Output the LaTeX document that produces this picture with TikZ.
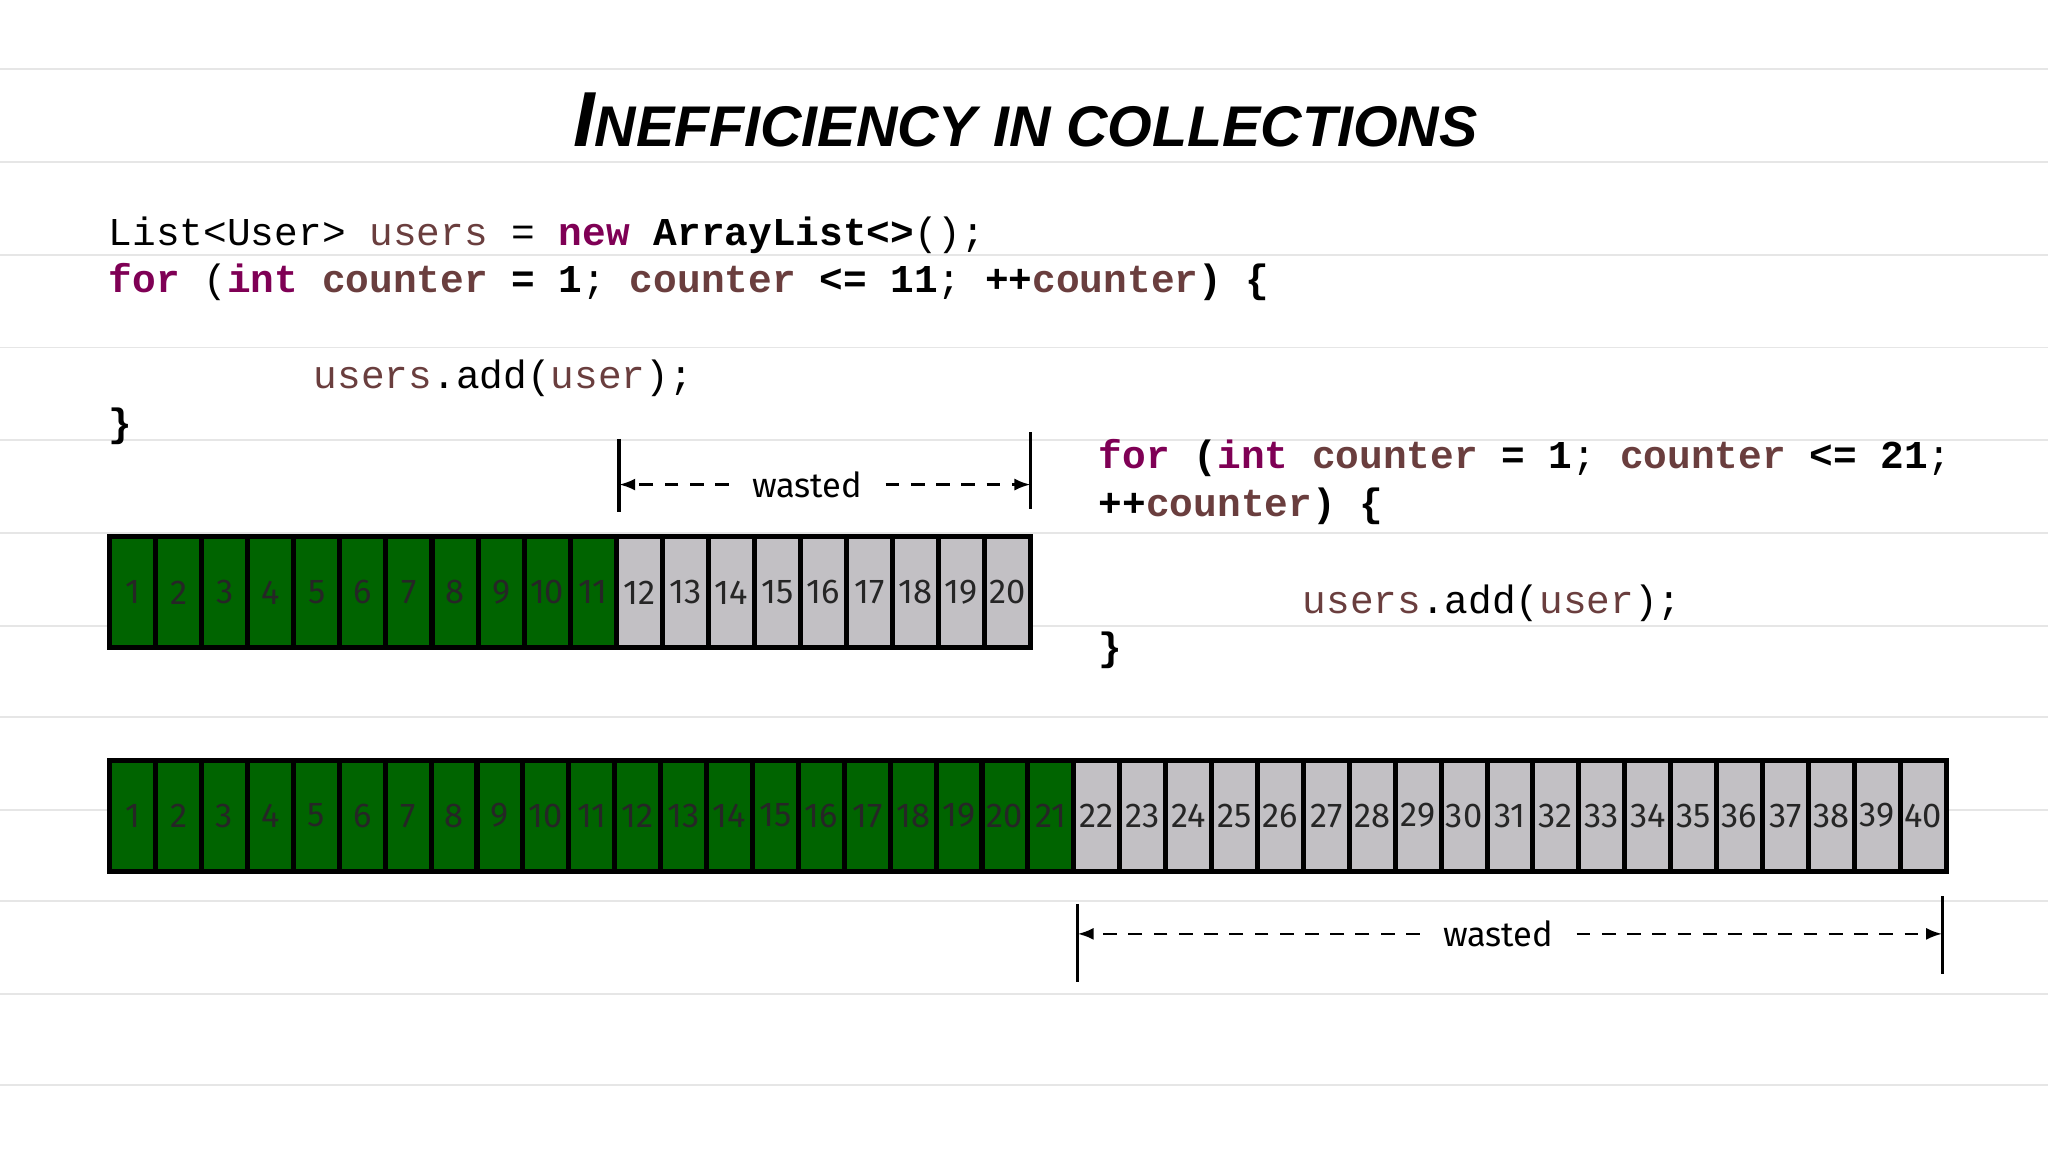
\documentclass[tikz,border=0pt]{standalone}
\usepackage{fontspec}
\setmainfont{Fira Sans}
\newfontfamily\codefont{Liberation Mono}
\newfontfamily\titlefont{Liberation Sans}
\usetikzlibrary{arrows.meta}
\definecolor{kw}{HTML}{7F0055}
\definecolor{vr}{HTML}{6A3E3E}
\definecolor{cellg}{HTML}{006400}
\definecolor{cellr}{HTML}{C2C0C4}
\definecolor{rule}{HTML}{E6E6E6}
\tikzset{
  code/.style={anchor=west,inner sep=0pt,font=\codefont\fontsize{17.2}{20}\selectfont},
  cellbox/.style={draw=black,line width=2.2pt,minimum height=1.7cm,inner sep=0pt,font=\fontsize{15}{18}\selectfont\color{black!85}},
  lbl/.style={font=\fontsize{15}{18}\selectfont,inner sep=10pt},
  dimarrow/.style={dashed,line width=1.2pt,dash pattern=on 6pt off 5pt,-{Latex[length=7pt]}},
  bar/.style={line width=1.5pt}
}
\newcommand{\kwd}[1]{\textcolor{kw}{\textbf{#1}}}
\newcommand{\vrb}[1]{\textcolor{vr}{#1}}
\begin{document}
\begin{tikzpicture}[x=0.02cm,y=-0.02cm]
\useasboundingbox (0,0) rectangle (1568,882);
\foreach \y in {53,124,195,266,337,408,479,549,620,690,761,831}
  \draw[rule,line width=0.8pt] (0,\y) -- (1568,\y);
\node[font=\titlefont\bfseries\itshape] (title) at (785,92)
  {\fontsize{34}{38}\selectfont I\fontsize{25}{30}\selectfont NEFFICIENCY IN COLLECTIONS};
% left code
\node[code] (l1) at (83,180) {List<User> \vrb{users} = \kwd{new} \textbf{ArrayList<>}();};
\node[code] (l2) at (83,216) {\kwd{for} (\kwd{int} \vrb{\textbf{counter}} \textbf{= 1}; \vrb{\textbf{counter}} \textbf{<= 11}; \textbf{++}\vrb{\textbf{counter}}\textbf{)} \textbf{\{}};
\node[code] (l3) at (240,290) {\vrb{users}.add(\vrb{user});};
\node[code] (l4) at (83,326) {\textbf{\}}};
% right code
\node[code] (r1) at (841,351) {\kwd{for} \textbf{(}\kwd{int} \vrb{\textbf{counter}} \textbf{= 1}; \vrb{\textbf{counter}} \textbf{<= 21};};
\node[code] (r2) at (841,388) {\textbf{++}\vrb{\textbf{counter}}\textbf{)} \textbf{\{}};
\node[code] (r3) at (997,462) {\vrb{users}.add(\vrb{user});};
\node[code] (r4) at (841,498) {\textbf{\}}};
% array 1
\foreach \i in {1,...,20}{
  \pgfmathsetmacro{\cx}{84+35.25*(\i-0.5)}
  \ifnum\i<12 \def\fc{cellg}\else\def\fc{cellr}\fi
  \node[cellbox,fill=\fc,minimum width=35.25*0.02cm] (a\i) at (\cx,453.5) {\i};
}
% array 2
\foreach \i in {1,...,40}{
  \pgfmathsetmacro{\cx}{84+35.15*(\i-0.5)}
  \ifnum\i<22 \def\fc{cellg}\else\def\fc{cellr}\fi
  \node[cellbox,fill=\fc,minimum width=35.15*0.02cm] (b\i) at (\cx,624.5) {\i};
}
% dimension 1
\coordinate (d1lt) at (474,336); \coordinate (d1lb) at (474,392);
\coordinate (d1rt) at (789,331); \coordinate (d1rb) at (789,390);
\draw[bar] (d1lt) -- (d1lb); \draw[bar] (d1rt) -- (d1rb);
\coordinate (d1l) at (474,371); \coordinate (d1r) at (789,371);
\node[lbl] (w1) at (618,371) {wasted};
\draw[dimarrow] (w1.west) -- (d1l);
\draw[dimarrow] (w1.east) -- (d1r);
% dimension 2
\coordinate (d2lt) at (825,692); \coordinate (d2lb) at (825,752);
\coordinate (d2rt) at (1487,686); \coordinate (d2rb) at (1487,746);
\draw[bar] (d2lt) -- (d2lb); \draw[bar] (d2rt) -- (d2rb);
\coordinate (d2l) at (825,715); \coordinate (d2r) at (1487,715);
\node[lbl] (w2) at (1147,715) {wasted};
\draw[dimarrow] (w2.west) -- (d2l);
\draw[dimarrow] (w2.east) -- (d2r);
\end{tikzpicture}
\end{document}
